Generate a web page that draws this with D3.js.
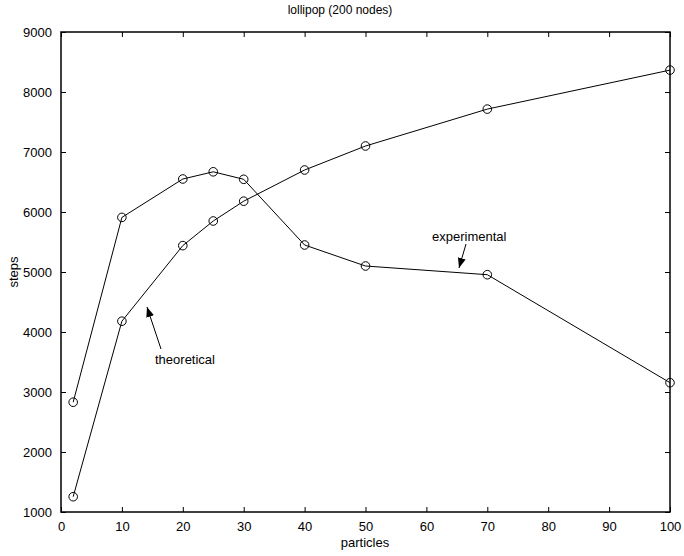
<!DOCTYPE html>
<html>
<head>
<meta charset="utf-8">
<script src="https://cdn.jsdelivr.net/npm/d3@7"></script>
<style>
  body { margin: 0; background: #fff; }
  text { font-family: "Liberation Sans", Arial, sans-serif; fill: #000; }
</style>
</head>
<body>
<div class="chart"></div>
<script>
var width = 684, height = 556;

// data
var particles = [2, 10, 20, 25, 30, 40, 50, 70, 100];
var experimental = [2830, 5910, 6550, 6670, 6545, 5450, 5100, 4955, 3155];
var theoretical = [1255, 4180, 5440, 5850, 6180, 6700, 7100, 7715, 8365];
var xTicks = [0, 10, 20, 30, 40, 50, 60, 70, 80, 90, 100];
var yTicks = [1000, 2000, 3000, 4000, 5000, 6000, 7000, 8000, 9000];

var margin = {left: 61, right: 14, top: 32, bottom: 44};

var svg = d3.select('.chart')
	.append('svg')
	.attr('width', width)
	.attr('height', height);

var x = d3.scaleLinear().domain([0, 100]).range([margin.left, width - margin.right]);
var y = d3.scaleLinear().domain([1000, 9000]).range([height - margin.bottom, margin.top]);

// ticks pointing inward on all four sides
function styleAxis(g) {
	g.select('.domain').remove();
	g.selectAll('line').attr('stroke', '#000');
	g.selectAll('text').attr('font-size', '13px');
}

svg.append('g')
	.attr('transform', 'translate(0,' + y.range()[0] + ')')
	.call(d3.axisBottom(x).tickValues(xTicks).tickSizeInner(-5).tickSizeOuter(0).tickPadding(10))
	.call(styleAxis);

svg.append('g')
	.attr('transform', 'translate(0,' + y.range()[1] + ')')
	.call(d3.axisTop(x).tickValues(xTicks).tickSizeInner(-5).tickSizeOuter(0).tickFormat(''))
	.call(styleAxis);

svg.append('g')
	.attr('transform', 'translate(' + x.range()[0] + ',0)')
	.call(d3.axisLeft(y).tickValues(yTicks).tickSizeInner(5).tickSizeOuter(0).tickPadding(4).tickFormat(d3.format('d')))
	.call(styleAxis)
	.selectAll('line').attr('x2', 5);

svg.append('g')
	.attr('transform', 'translate(' + x.range()[1] + ',0)')
	.call(d3.axisRight(y).tickValues(yTicks).tickSizeInner(-5).tickSizeOuter(0).tickFormat(''))
	.call(styleAxis);

// box
svg.append('rect')
	.attr('x', x.range()[0])
	.attr('y', y.range()[1])
	.attr('width', x.range()[1] - x.range()[0])
	.attr('height', y.range()[0] - y.range()[1])
	.attr('fill', 'none')
	.attr('stroke', '#000')
	.attr('stroke-width', 1.5);

// series
var line = d3.line()
	.x(function(d) { return x(d[0]); })
	.y(function(d) { return y(d[1]); });

[experimental, theoretical].forEach(function(series) {
	var pts = particles.map(function(p, i) { return [p, series[i]]; });
	svg.append('path')
		.datum(pts)
		.attr('d', line)
		.attr('fill', 'none')
		.attr('stroke', '#000')
		.attr('stroke-width', 1);
	svg.selectAll(null)
		.data(pts)
		.enter()
		.append('circle')
		.attr('cx', function(d) { return x(d[0]); })
		.attr('cy', function(d) { return y(d[1]); })
		.attr('r', 4.3)
		.attr('fill', 'none')
		.attr('stroke', '#000')
		.attr('stroke-width', 1);
});

// annotations with arrows
svg.append('defs').append('marker')
	.attr('id', 'head')
	.attr('viewBox', '0 0 10 10')
	.attr('refX', 10).attr('refY', 5)
	.attr('markerWidth', 10).attr('markerHeight', 10)
	.attr('markerUnits', 'userSpaceOnUse')
	.attr('orient', 'auto')
	.append('path')
	.attr('d', 'M0,1 L10,5 L0,9 Z')
	.attr('fill', '#000');

var notes = [
	{label: 'experimental', tx: 432, ty: 241, from: [466, 244], to: [459, 268]},
	{label: 'theoretical', tx: 155, ty: 364, from: [161, 349], to: [147, 307]}
];

notes.forEach(function(n) {
	svg.append('text')
		.attr('x', n.tx).attr('y', n.ty)
		.attr('font-size', '13px')
		.text(n.label);
	svg.append('line')
		.attr('x1', n.from[0]).attr('y1', n.from[1])
		.attr('x2', n.to[0]).attr('y2', n.to[1])
		.attr('stroke', '#000')
		.attr('stroke-width', 1)
		.attr('marker-end', 'url(#head)');
});

// titles
svg.append('text')
	.attr('x', 340).attr('y', 14)
	.attr('text-anchor', 'middle')
	.attr('font-size', '12px')
	.text('lollipop (200 nodes)');

svg.append('text')
	.attr('x', 365).attr('y', 547)
	.attr('text-anchor', 'middle')
	.attr('font-size', '13px')
	.text('particles');

svg.append('text')
	.attr('transform', 'translate(18,' + 272 + ') rotate(-90)')
	.attr('text-anchor', 'middle')
	.attr('font-size', '13px')
	.text('steps');
</script>
</body>
</html>
